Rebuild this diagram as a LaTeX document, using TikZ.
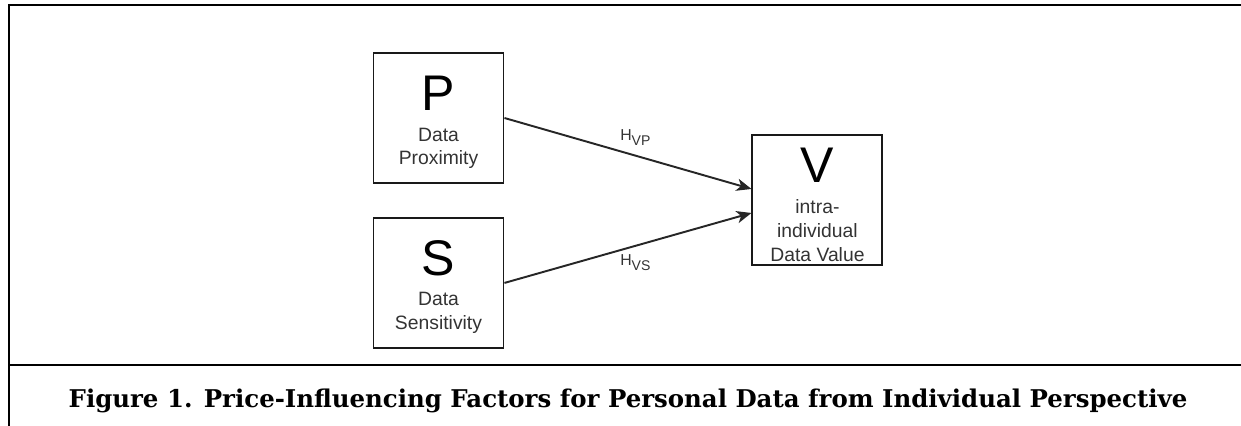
\documentclass[tikz,border=0pt]{standalone}
\usepackage{fontspec}
\setmainfont{Liberation Sans}
\newfontfamily\captionfont{DejaVu Serif}
\usepackage{tikz}
\usetikzlibrary{arrows.meta, positioning, calc}
\tikzstyle{frame} = [line width=1.1pt, black]
\tikzstyle{arrow} = [line width=1.1pt, black!85, -{Stealth[length=8.5pt, width=7pt, inset=2.4pt]}]
\newcommand{\bigletter}[1]{{\color{black}\fontsize{28.5}{30}\selectfont\rule{0pt}{24.5pt}#1}}
\newcommand{\hyp}[1]{H\raisebox{-2.8pt}{\fontsize{8}{9}\selectfont #1}}

\begin{document}
\begin{tikzpicture}[
        node distance=0.66cm,
        factor/.style={rectangle, draw=black!90, line width=1.1pt, minimum size=2.6cm, inner sep=0pt, align=center, text=black!80, font=\fontsize{11}{13.6}\selectfont},
        hlabel/.style={text=black!80, font=\fontsize{9}{11}\selectfont}
        ]

        \useasboundingbox (0,0) rectangle (24.82,-8.52);
        \draw[frame] (24.82,-0.1) -- (0.18,-0.1) -- (0.18,-8.52);
        \draw[frame] (0.18,-7.3) -- (24.82,-7.3);

        \node[factor] (prox) at (8.77,-2.36) {\bigletter{P}\\[4pt]Data\\Proximity};
        \node[factor, below=of prox] (sens) {\bigletter{S}\\[4pt]Data\\Sensitivity};
        \coordinate (mid) at ($(prox.east)!0.5!(sens.east)$);
        \node[factor, right=4.94cm of mid] (value) {\bigletter{V}\\[4pt]intra-\\individual\\Data Value};

        \draw[arrow] (prox.east) -- node[hlabel, pos=0.53, above=2pt] {\hyp{VP}} ([yshift=0.23cm]value.west);
        \draw[arrow] (sens.east) -- node[hlabel, pos=0.53, below=1pt] {\hyp{VS}} ([yshift=-0.25cm]value.west);

        \node[anchor=base, font=\captionfont\bfseries\fontsize{13.9}{17}\selectfont] (caption) at (12.56,-8.14)
            {Figure 1. Price-Influencing Factors for Personal Data from Individual Perspective};

    \end{tikzpicture}
\end{document}
